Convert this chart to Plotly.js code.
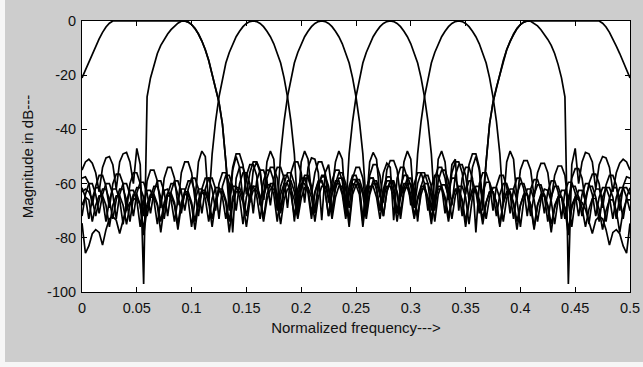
<!DOCTYPE html>
<html>
<head>
<meta charset="utf-8">
<script src="https://cdn.plot.ly/plotly-3.0.1.min.js"></script>
<style>html,body{margin:0;padding:0;background:#cdcdcd;}#chart{width:643px;height:367px;}</style>
</head>
<body>
<div id="chart"></div>
<script>
// Normalized frequency grid (0 .. 0.5)
const freq = [
0,0.003125,0.00625,0.009375,
0.0125,0.015625,0.01875,0.021875,
0.025,0.028125,0.03125,0.034375,
0.0375,0.040625,0.04375,0.046875,
0.05,0.053125,0.05625,0.059375,
0.0625,0.065625,0.06875,0.071875,
0.075,0.078125,0.08125,0.084375,
0.0875,0.090625,0.09375,0.096875,
0.1,0.103125,0.10625,0.109375,
0.1125,0.115625,0.11875,0.121875,
0.125,0.128125,0.13125,0.134375,
0.1375,0.140625,0.14375,0.146875,
0.15,0.153125,0.15625,0.159375,
0.1625,0.165625,0.16875,0.171875,
0.175,0.178125,0.18125,0.184375,
0.1875,0.190625,0.19375,0.196875,
0.2,0.203125,0.20625,0.209375,
0.2125,0.215625,0.21875,0.221875,
0.225,0.228125,0.23125,0.234375,
0.2375,0.240625,0.24375,0.246875,
0.25,0.253125,0.25625,0.259375,
0.2625,0.265625,0.26875,0.271875,
0.275,0.278125,0.28125,0.284375,
0.2875,0.290625,0.29375,0.296875,
0.3,0.303125,0.30625,0.309375,
0.3125,0.315625,0.31875,0.321875,
0.325,0.328125,0.33125,0.334375,
0.3375,0.340625,0.34375,0.346875,
0.35,0.353125,0.35625,0.359375,
0.3625,0.365625,0.36875,0.371875,
0.375,0.378125,0.38125,0.384375,
0.3875,0.390625,0.39375,0.396875,
0.4,0.403125,0.40625,0.409375,
0.4125,0.415625,0.41875,0.421875,
0.425,0.428125,0.43125,0.434375,
0.4375,0.440625,0.44375,0.446875,
0.45,0.453125,0.45625,0.459375,
0.4625,0.465625,0.46875,0.471875,
0.475,0.478125,0.48125,0.484375,
0.4875,0.490625,0.49375,0.496875,
0.5];

// Magnitude responses (dB), one per channel
const band1 = [
-21,-18,-15,-12,-9.3,-6.6,-4.2,-2.2,-0.8,0,
0,0,0,0,0,0,0,0,0,0,
0,0,0,0,0,0,0,0,0,0,
0,-0.4,-1.3,-2.8,-4.8,-7.4,-10.6,-14.6,-19.5,-24.5,
-30,-38,-52,-70,-55,-50,-54,-66,-57,-53,
-53,-57,-68,-59,-55,-55,-59,-70,-61,-57,
-57,-61,-74,-62,-58,-58,-62,-71,-63,-59,
-59,-63,-72,-64,-60,-60,-64,-73,-64,-60,
-60.5,-64,-76,-65,-61,-61,-65,-73,-65,-61,
-61,-65,-74,-65,-61.5,-61.5,-65.5,-73,-66,-62,
-62,-66,-75,-66,-62,-62,-66,-74,-66,-62.5,
-62.5,-66.5,-76,-67,-63,-63,-67,-75,-67,-63,
-63,-67,-76,-67,-63.5,-63.5,-67.5,-77,-68,-64,
-64,-68,-77,-68,-64.5,-64.5,-68.5,-78,-68,-65,
-65,-69,-79,-68,-65,-66,-67,-69.5,-73.5,-78.4,
-73.5,-72.2,-73,-77,-82.7,-78,-77,-78.5,-83,-85.7,
-74.7];

const band2 = [
-55,-52,-51,-52.5,-56,-63,-54,-50.5,-50,-53,
-62,-52,-49,-48.5,-52,-60,-47,-53,-97,-28,
-21,-16,-12,-9,-6.8,-4.8,-3.2,-1.8,-0.8,-0.1,
0,-0.4,-1.3,-2.8,-4.8,-7.4,-10.6,-14.6,-19.5,-24.5,
-30,-38,-52,-66,-54,-49,-49,-53,-64,-56,
-52,-52,-56,-66,-58,-54,-54,-58,-70,-60,
-56,-56,-60,-69,-61,-57,-57,-61,-71,-61,
-57.5,-57.5,-62,-70,-62,-58,-58,-62,-74,-62,
-58.5,-58.5,-62.5,-71,-63,-59,-59,-63,-72,-63,
-59,-59.5,-63.5,-73,-63.5,-60,-60,-64,-72,-64,
-60,-60,-64,-74,-64,-60.5,-60.5,-64.5,-73,-64.5,
-61,-61,-65,-75,-65,-61,-61,-65,-73,-65,
-61.5,-61.5,-65.5,-74,-65.5,-62,-62,-66,-76,-66,
-62,-62,-66,-74,-66,-62,-62.5,-66.5,-75,-66,
-62.5,-62.5,-66.5,-76,-66,-62.5,-62.5,-66.5,-75,-66,
-62,-62,-66,-74,-65.5,-61.5,-61.5,-65.5,-73,-65,
-61.5];

const band3 = [
-58,-57.5,-60,-68,-61,-57,-57,-61,-69,-60,
-56.5,-56.5,-60,-70,-60,-56,-56,-60,-72,-59,
-55,-55,-59,-69,-58,-54,-54,-58,-68,-56,
-52,-52,-56,-66,-52,-48,-50,-68,-49,-37,
-28,-21,-15.5,-11.6,-8.4,-5.8,-3.8,-2.1,-0.9,-0.2,
0,-0.2,-0.9,-2.1,-3.8,-5.8,-8.4,-11.6,-15.5,-21,
-28,-37,-49,-70,-52,-48,-51,-64,-56,-52,
-52,-56,-67,-59,-55,-55,-59,-69,-61,-57,
-57,-61,-73,-62,-58,-58,-62,-70,-63,-59,
-59,-63,-71,-64,-60,-60,-64,-72,-65,-61,
-61,-65,-73,-65,-61,-61,-65,-72,-66,-62,
-62,-66,-74,-66,-62,-62,-66,-73,-67,-63,
-63,-67,-75,-67,-63,-63,-67,-74,-68,-64,
-64,-68,-76,-68,-64,-64,-68,-75,-69,-65,
-65,-69,-77,-69,-65,-65,-69,-76,-69.5,-65.5,
-65.5,-69.5,-77,-70,-66,-66,-70,-78,-70,-66,
-66];

const band4 = [
-63,-62,-63,-66,-72,-66,-62,-62,-66,-73,
-66,-62,-62,-66,-74,-65,-61.5,-61.5,-65,-72,
-65,-61,-61,-65,-73,-64,-60,-60,-64,-71,
-63,-59,-59,-63,-72,-62,-58,-58,-62,-70,
-60,-56,-56,-60,-78,-58,-54,-54,-58,-67,
-55,-52,-55,-66,-52,-48,-51,-69,-49,-37,
-28,-21,-15.5,-11.6,-8.4,-5.8,-3.8,-2.1,-0.9,-0.2,
0,-0.2,-0.9,-2.1,-3.8,-5.8,-8.4,-11.6,-15.5,-21,
-28,-37,-49,-68,-52,-48.5,-51,-65,-56,-52.5,
-54,-73.5,-58,-54,-54,-58,-68,-60,-56,-56,
-60,-70,-61,-57,-57,-61,-71,-62,-58,-58,
-62,-72,-63,-59,-59,-63,-71,-63,-59.5,-59.5,
-63.5,-72,-64,-60,-60,-64,-73,-64,-60,-60,
-64,-72,-64,-60.5,-60.5,-64.5,-74,-65,-61,-61,
-65,-73,-65,-61,-61,-65,-72,-65,-61,-61,
-65,-74,-65,-61.5,-61.5,-65,-73,-65,-61.5,-61.5,
-64];

const band5 = [
-72,-64,-60,-60,-64,-71,-64,-60,-60,-64,
-73,-64,-60,-60,-64,-72,-63.5,-59.5,-59.5,-63.5,
-71,-63,-59,-59,-63,-72,-63,-59,-59,-63,
-70,-62,-58,-58,-62,-71,-62,-58,-58,-62,
-73,-61,-57,-57,-61,-70,-60,-56,-56,-60,
-71,-59,-55,-55,-59,-68,-58,-54,-54,-58,
-69,-56,-52,-52,-56,-67,-54,-50.5,-51,-56,
-73.5,-56,-53,-63,-52,-48,-51,-70,-49,-37,
-28,-21,-15.5,-11.6,-8.4,-5.8,-3.8,-2.1,-0.9,-0.2,
0,-0.2,-0.9,-2.1,-3.8,-5.8,-8.4,-11.6,-15.5,-21,
-28,-37,-49,-69,-51,-48,-52,-66,-53,-51,
-70,-58,-54,-54,-58,-78,-60,-56,-56,-60,
-70,-61,-57,-57,-61,-71,-62,-58,-58,-62,
-72,-62,-58.5,-58.5,-62.5,-71,-63,-59,-59,-63,
-73,-63,-59.5,-59.5,-63.5,-72,-64,-60,-60,-64,
-72,-65,-61.5,-61.5,-65,-73,-65,-61.5,-61.5,-65,
-70];

const band6 = [
-68,-65,-66,-74,-68,-64.5,-64.5,-68,-76,-68,
-64.5,-64.5,-68,-75,-68,-64,-64,-68,-77,-67.5,
-64,-64,-67.5,-74,-67,-63.5,-63.5,-67,-75,-67,
-63,-63,-67,-74,-66,-62.5,-62.5,-66,-73,-66,
-62,-62,-66,-74,-65,-61.5,-61.5,-65,-72,-64.5,
-61,-61,-64.5,-73,-64,-60,-60,-64,-71,-63,
-59,-59,-63,-72,-62,-58,-58,-62,-70,-61,
-57,-57,-61,-71,-60,-56,-56,-60,-69,-58,
-54,-54,-58,-70,-57,-53,-53,-57,-67,-55,
-51.5,-51.5,-55,-65,-52,-48,-51,-69,-49,-37,
-28,-21,-15.5,-11.6,-8.4,-5.8,-3.8,-2.1,-0.9,-0.2,
0,-0.2,-0.9,-2.1,-3.8,-5.8,-8.4,-11.6,-15.5,-21,
-28,-37,-49,-68,-52,-48,-51,-66,-55,-51.5,
-51.5,-55,-65,-56,-52.5,-52.5,-56,-66,-57,-53.5,
-53.5,-57,-68,-58,-54.5,-54.5,-58,-67,-60,-56.5,
-56.5,-60,-69,-60.5,-57,-57,-60.5,-70,-61,-57.5,
-58];

const band7 = [
-61.5,-65,-73,-65.5,-61.5,-61.5,-65.5,-74,-66,-62,
-62,-66,-75,-66.5,-62.5,-62.5,-66,-76,-66.5,-62.5,
-62.5,-66,-75,-66.5,-62.5,-62,-66,-74,-66,-62,
-62,-66,-76,-66,-62,-62,-65.5,-74,-65.5,-61.5,
-61.5,-65,-73,-65,-61,-61,-65,-75,-65,-61,
-61,-64.5,-73,-64.5,-60.5,-60.5,-64,-74,-64,-60,
-60,-64,-72,-64,-60,-60,-63.5,-73,-63.5,-59.5,
-59,-63,-72,-63,-59,-59,-63,-71,-62.5,-58.5,
-58.5,-62,-74,-62,-58,-58,-62,-70,-62,-57.5,
-57.5,-61,-71,-61,-57,-57,-61,-69,-60,-56,
-56,-60,-70,-58,-54,-54,-58,-66,-56,-52,
-52,-56,-64,-53,-49,-49,-54,-66,-52,-38,
-30,-24.5,-19.5,-14.6,-10.6,-7.4,-4.8,-2.8,-1.3,-0.4,
0,-0.1,-0.8,-1.8,-3.2,-4.8,-6.8,-9,-12,-16,
-21,-28,-97,-53,-47,-60,-52,-48.5,-49,-52,
-62,-53,-50,-50.5,-54,-63,-56,-52.5,-51,-52,
-55];

const band8 = [
-74.6,-85.7,-83,-78.5,-77,-78,-82.7,-77,-73,-72.2,
-73.5,-78.4,-73.5,-69.5,-67,-66,-65,-68,-79,-69,
-65,-65,-68,-78,-68.5,-64.5,-64.5,-68,-77,-68,
-64,-64,-68,-77,-67.5,-63.5,-63.5,-67,-76,-67,
-63,-63,-67,-78,-67,-63,-63,-67,-76,-66.5,
-62.5,-62.5,-66,-74,-66,-62,-62,-66,-75,-66,
-62,-62,-66,-73,-65.5,-61.5,-61.5,-65,-74,-65,
-61,-61,-65,-73,-65,-61,-61,-65,-76,-64,
-60.5,-60,-64,-73,-64,-60,-60,-64,-72,-63,
-59,-59,-63,-71,-62,-58,-58,-62,-74,-61,
-57,-57,-61,-70,-59,-55,-55,-59,-68,-57,
-53,-53,-57,-66,-54,-50,-55,-70,-52,-38,
-30,-24.5,-19.5,-14.6,-10.6,-7.4,-4.8,-2.8,-1.3,-0.4,
0,0,0,0,0,0,0,0,0,0,
0,0,0,0,0,0,0,0,0,0,
0,0,-0.8,-2.2,-4.2,-6.6,-9.3,-12,-15,-18,
-21];

const xTickVals = [0,0.05,0.1,0.15,0.2,0.25,0.3,0.35,0.4,0.45,0.5];
const xTickText = ['0','0.05','0.1','0.15','0.2','0.25','0.3','0.35','0.4','0.45','0.5'];
const yTickVals = [-100,-80,-60,-40,-20,0];
const yTickText = ['-100','-80','-60','-40','-20','0'];

const bands = [band1, band2, band3, band4, band5, band6, band7, band8];
const traces = bands.map(b => ({
  x: freq, y: b, type: 'scatter', mode: 'lines',
  line: {color: '#000000', width: 1.7},
  hoverinfo: 'skip'
}));

const tickFont = {family: 'Liberation Sans, Arial, sans-serif', size: 14.5, color: '#111111'};
const titleFont = {family: 'Liberation Sans, Arial, sans-serif', size: 15, color: '#111111'};
const W = 548, H = 271, L = 82, T = 21;
const px2x = p => (p - L) / W;
const py2y = p => (T + H - p) / H;

const layout = {
  width: 643, height: 367,
  margin: {l: 82, r: 13, t: 21, b: 75, pad: 0},
  paper_bgcolor: '#cdcdcd',
  plot_bgcolor: '#ffffff',
  showlegend: false,
  font: tickFont,
  xaxis: {
    range: [0, 0.5], autorange: false,
    tickvals: xTickVals, ticktext: xTickText,
    ticks: 'inside', ticklen: 5, tickcolor: '#000', tickwidth: 1,
    showline: true, linecolor: '#000', linewidth: 1, mirror: 'allticks',
    showgrid: false, zeroline: false,
    tickfont: tickFont, ticklabelstandoff: 3,
    title: {text: 'Normalized frequency--->', font: titleFont, standoff: 7},
    automargin: false
  },
  yaxis: {
    range: [-100, 0], autorange: false,
    tickvals: yTickVals, ticktext: yTickText,
    ticks: 'inside', ticklen: 5, tickcolor: '#000', tickwidth: 1,
    showline: true, linecolor: '#000', linewidth: 1, mirror: 'allticks',
    showgrid: false, zeroline: false,
    tickfont: tickFont, ticklabelstandoff: 2,
    title: {text: 'Magnitude in dB---', font: titleFont, standoff: 9},
    automargin: false
  },
  shapes: [
    {type: 'rect', xref: 'paper', yref: 'paper', layer: 'above',
     x0: px2x(0), x1: px2x(5), y0: py2y(367), y1: py2y(0),
     line: {width: 0}, fillcolor: '#f6f6f6'},
    {type: 'rect', xref: 'paper', yref: 'paper', layer: 'above',
     x0: px2x(0), x1: px2x(643), y0: py2y(367), y1: py2y(362),
     line: {width: 0}, fillcolor: '#f6f6f6'}
  ],
  hovermode: false
};

Plotly.newPlot('chart', traces, layout, {staticPlot: true, displayModeBar: false});
</script>
</body>
</html>
